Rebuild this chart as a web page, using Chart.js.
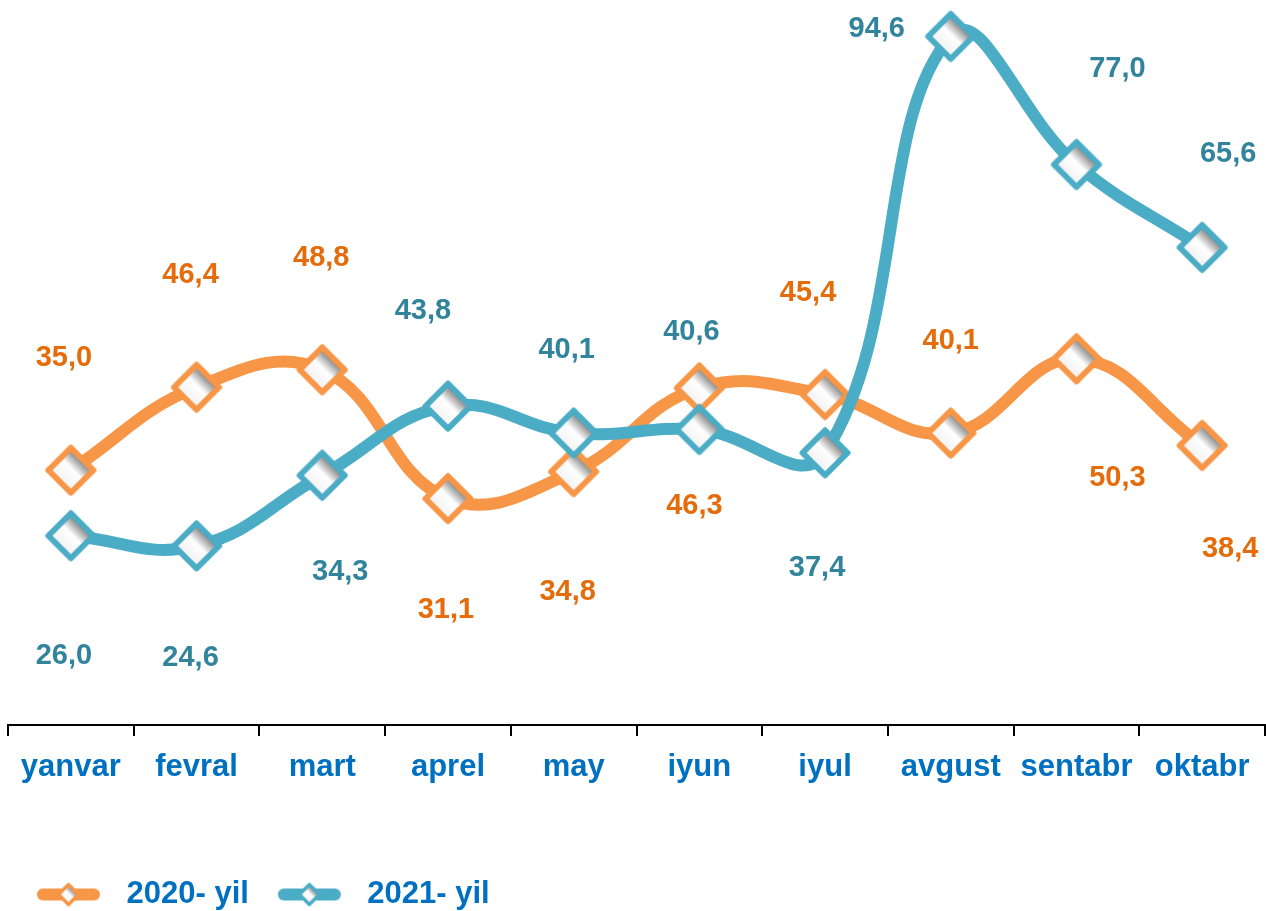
<!DOCTYPE html>
<html>
<head>
<meta charset="utf-8">
<script src="https://cdn.jsdelivr.net/npm/chart.js@4.4.0/dist/chart.umd.min.js"></script>
<style>
  html, body { margin: 0; padding: 0; background: #fff; }
</style>
</head>
<body>
<canvas id="chart" width="1266" height="911"></canvas>
<script>
// ── Data ──────────────────────────────────────────────────────────────────────
const months = ['yanvar', 'fevral', 'mart', 'aprel', 'may', 'iyun', 'iyul', 'avgust', 'sentabr', 'oktabr'];
const values2020 = [35.0, 46.4, 48.8, 31.1, 34.8, 46.3, 45.4, 40.1, 50.3, 38.4];
const values2021 = [26.0, 24.6, 34.3, 43.8, 40.1, 40.6, 37.4, 94.6, 77.0, 65.6];
const seriesNames = ['2020- yil', '2021- yil'];

// Label placement (px from each marker), as the labels were moved by hand
const labelShift2020 = [[-7, -112], [-6, -112], [-1, -112], [-2, 111], [-6, 120], [-5, 118], [-17, -102], [0, -92], [41, 119], [28, 104]];
const labelShift2021 = [[-7, 120], [-6, 112], [18, 97], [-25, -95], [-7, -83], [-8, -97], [-8, 115], [-74, -7], [41, -96], [26, -93]];

// ── Styles ────────────────────────────────────────────────────────────────────
const ORANGE = '#F79646';
const TEAL = '#4BACC6';
const ORANGE_TEXT = '#E46C0A';
const TEAL_TEXT = '#31849B';
const AXIS_TEXT = '#0070C0';
const FONT = "'Liberation Sans', Arial, sans-serif";

function diamondPath(ctx, cx, cy, h) {
  ctx.beginPath();
  ctx.moveTo(cx, cy - h);
  ctx.lineTo(cx + h, cy);
  ctx.lineTo(cx, cy + h);
  ctx.lineTo(cx - h, cy);
  ctx.closePath();
}

function fillDiamond(ctx, cx, cy, h, color, lw) {
  const g = ctx.createLinearGradient(cx + h / 2, cy - h / 2, cx - h / 2, cy + h / 2);
  g.addColorStop(0, '#777777');
  g.addColorStop(0.45, '#ffffff');
  g.addColorStop(1, '#f2f2f2');
  diamondPath(ctx, cx, cy, h);
  ctx.fillStyle = g;
  ctx.fill();
  ctx.lineWidth = lw;
  ctx.lineJoin = 'round';
  ctx.strokeStyle = color;
  ctx.stroke();
}

function makeMarker(color) {
  const c = document.createElement('canvas');
  c.width = 60; c.height = 60;
  fillDiamond(c.getContext('2d'), 30, 30, 22.5, color, 6);
  return c;
}

function makeLegendIcon(color) {
  const c = document.createElement('canvas');
  c.width = 99; c.height = 30;
  const ctx = c.getContext('2d');
  ctx.strokeStyle = color;
  ctx.lineWidth = 12;
  ctx.lineCap = 'round';
  ctx.beginPath();
  ctx.moveTo(31, 15);
  ctx.lineTo(82, 15);
  ctx.stroke();
  fillDiamond(ctx, 56.5, 15, 10, color, 3.5);
  return c;
}

const markers = [makeMarker(ORANGE), makeMarker(TEAL)];
const legendIcons = [makeLegendIcon(ORANGE), makeLegendIcon(TEAL)];

// ── Data labels ───────────────────────────────────────────────────────────────
const valueLabels = {
  id: 'valueLabels',
  afterDatasetsDraw(chart) {
    const ctx = chart.ctx;
    ctx.save();
    ctx.font = `bold 29px ${FONT}`;
    ctx.textAlign = 'center';
    ctx.textBaseline = 'middle';
    chart.data.datasets.forEach((ds, di) => {
      const meta = chart.getDatasetMeta(di);
      ctx.fillStyle = ds.labelColor;
      meta.data.forEach((pt, i) => {
        const [dx, dy] = ds.labelShift[i];
        ctx.fillText(ds.data[i].toFixed(1).replace('.', ','), pt.x + dx, pt.y + dy);
      });
    });
    ctx.restore();
  },
};

// ── Chart ─────────────────────────────────────────────────────────────────────
const datasets = [
  {
    label: seriesNames[0],
    data: values2020,
    borderColor: ORANGE,
    labelColor: ORANGE_TEXT,
    labelShift: labelShift2020,
    pointStyle: markers[0],
    order: 2,
  },
  {
    label: seriesNames[1],
    data: values2021,
    borderColor: TEAL,
    labelColor: TEAL_TEXT,
    labelShift: labelShift2021,
    pointStyle: markers[1],
    order: 1,
  },
].map(ds => ({
  ...ds,
  borderWidth: 12,
  borderCapStyle: 'round',
  borderJoinStyle: 'round',
  tension: 0.42,
  clip: false,
  fill: false,
}));

new Chart(document.getElementById('chart'), {
  type: 'line',
  data: { labels: months, datasets },
  options: {
    responsive: false,
    animation: false,
    events: [],
    // bottom pulled past the canvas edge so the legend row sits low, as in the source
    layout: { autoPadding: false, padding: { left: 8, right: 1, top: 0, bottom: -9 } },
    plugins: {
      tooltip: { enabled: false },
      legend: {
        position: 'bottom',
        align: 'start',
        labels: {
          usePointStyle: true,
          pointStyleWidth: 99,
          padding: 4,
          color: AXIS_TEXT,
          font: { family: FONT, size: 31, weight: 'bold' },
          generateLabels: (chart) => chart.data.datasets.map((ds, i) => ({
            text: ds.label,
            pointStyle: legendIcons[i],
            fontColor: AXIS_TEXT,
            fillStyle: 'transparent',
            strokeStyle: 'transparent',
            lineWidth: 0,
            hidden: false,
            datasetIndex: i,
          })),
        },
      },
    },
    scales: {
      x: {
        offset: true,
        grid: { offset: true, drawOnChartArea: false, drawTicks: true, tickLength: 11, color: '#000', lineWidth: 2 },
        border: { display: true, color: '#000', width: 2 },
        ticks: {
          color: AXIS_TEXT,
          font: { family: FONT, size: 31, weight: 'bold' },
          padding: 13,
          maxRotation: 0,
          autoSkip: false,
        },
        afterFit: (scale) => { scale.height = 150; },
      },
      y: {
        display: false,
        min: 0,
        max: 99.6,
      },
    },
  },
  plugins: [valueLabels],
});
</script>
</body>
</html>
